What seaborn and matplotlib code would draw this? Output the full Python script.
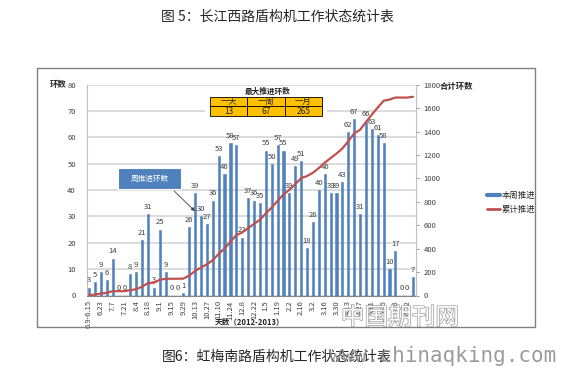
import numpy as np
import pandas as pd
import matplotlib
matplotlib.use('Agg')
import matplotlib.pyplot as plt
import seaborn as sns
from matplotlib.patches import Rectangle
from matplotlib.lines import Line2D
import matplotlib.patheffects as pe

# Style
sns.set_style('white')
plt.rcParams['font.family'] = ['Noto Sans CJK SC', 'DejaVu Sans']
plt.rcParams['axes.unicode_minus'] = False

# Data
week_rings = [3, 5, 9, 6, 14, 0, 0, 8, 9, 21, 31, 3, 25, 9, 0, 0, 1, 26, 39, 30,
              27, 36, 53, 46, 58, 57, 22, 37, 36, 35, 55, 50, 57, 55, 39, 49, 51, 18,
              28, 40, 46, 39, 39, 43, 62, 67, 31, 66, 63, 61, 58, 10, 17, 0, 0, 7]
cum_rings = [3, 8, 17, 23, 37, 37, 37, 45, 54, 75, 106, 109, 134, 143, 143, 143, 144,
             170, 209, 239, 266, 302, 355, 401, 459, 516, 538, 575, 611, 646, 701, 751,
             808, 863, 902, 951, 1002, 1020, 1048, 1088, 1134, 1173, 1212, 1255, 1317,
             1384, 1415, 1481, 1544, 1605, 1663, 1673, 1690, 1690, 1690, 1697]
tick_labels = ['6.9-6.15', '6.23', '7.7', '7.21', '8.4', '8.18', '9.1', '9.15', '9.29',
               '10.13', '10.27', '11.10', '11.24', '12.8', '12.22', '1.5', '1.19', '2.2',
               '2.16', '3.2', '3.16', '3.30', '4.13', '4.27', '5.11', '5.25', '6.8', '6.22']
max_labels = ['一天', '一周', '一月']
max_values = ['13', '67', '265']

df = pd.DataFrame({'pos': np.arange(len(week_rings)), 'rings': week_rings, 'cum': cum_rings})

W, H = 566, 375
fig = plt.figure(figsize=(W / 100, H / 100), dpi=100)
ax = fig.add_axes([87 / W, 1 - 295.5 / H, (416 - 87) / W, (295.5 - 84.7) / H])

# chart frame
fig.add_artist(Rectangle((37 / W, 1 - 327 / H), (535 - 37) / W, (327 - 68) / H,
                         transform=fig.transFigure, fill=False, edgecolor='#808080', lw=1))

# weekly bars
sns.barplot(data=df, x='pos', y='rings', color='#4F81BD', saturation=1, width=0.36,
            native_scale=True, errorbar=None, ax=ax, zorder=2,
            edgecolor='#4F81BD', linewidth=0.4)
for i, v in enumerate(week_rings):
    ax.text(i, v + 1.2, str(v), ha='center', va='bottom', fontsize=5.5, color='#404040', zorder=3)

ax.set_xlim(-0.35, 55.5)
ax.set_ylim(0, 80)
ax.set_yticks(range(0, 81, 10))
ax.set_xticks(range(0, 56, 2))
ax.set_xticklabels(tick_labels, rotation=90, fontsize=5.5, color='#404040')
ax.tick_params(axis='y', labelsize=5.5, labelcolor='#404040', length=0, pad=8)
ax.tick_params(axis='x', length=2, width=0.6, color='#868686', pad=1.5)
ax.set_xlabel('')
ax.set_ylabel('')
ax.yaxis.grid(True, color='#d9d9d9', lw=1.3)
ax.set_axisbelow(True)
for s in ['top', 'right']:
    ax.spines[s].set_visible(False)
ax.spines['left'].set_color('#bfbfbf')
ax.spines['bottom'].set_color('#868686')
ax.spines['left'].set_linewidth(0.8)
ax.spines['bottom'].set_linewidth(0.8)

# cumulative line
ax2 = ax.twinx()
sns.lineplot(data=df, x='pos', y='cum', color='#C0504D', lw=1.6, ax=ax2)
ax2.set_ylim(0, 1800)
ax2.set_yticks(range(0, 1801, 200))
ax2.tick_params(axis='y', labelsize=5.5, labelcolor='#404040', length=2.5, width=0.6,
                color='#868686', pad=3)
ax2.set_ylabel('')
for s in ['top', 'left', 'bottom']:
    ax2.spines[s].set_visible(False)
ax2.spines['right'].set_color('#bfbfbf')
ax2.spines['right'].set_linewidth(0.8)

# callout box
ax.add_patch(Rectangle((4.9, 40.4), 10.7, 8.0, facecolor='#4F81BD', edgecolor='white',
                       lw=0.8, zorder=4))
ax.text(10.25, 44.4, '周推进环数', ha='center', va='center', color='white', fontsize=5.5, zorder=5)
ax.annotate('', xy=(18.3, 31.3), xytext=(14.1, 40.4),
            arrowprops=dict(arrowstyle='-|>', color='#404040', lw=0.6, mutation_scale=5),
            zorder=5)

# max advance table
ax2.add_patch(Rectangle((0.359, 0.835), 0.37, 0.152, transform=ax2.transAxes,
                        facecolor='white', edgecolor='none', zorder=3))
ax2.text(0.55, 0.97, '最大推进环数', transform=ax2.transAxes, ha='center', va='center',
         fontsize=5.5, fontweight='bold', zorder=4)
tbl = ax2.table(cellText=[max_labels, max_values], cellLoc='center',
                bbox=[0.374, 0.8515, 0.34, 0.0902])
tbl.auto_set_font_size(False)
tbl.set_fontsize(6)
tbl.set_zorder(5)
for cell in tbl.get_celld().values():
    cell.set_facecolor('#FFC000')
    cell.set_edgecolor('black')
    cell.set_linewidth(0.6)

# axis titles
fig.text(58 / W, 1 - 85 / H, '环数', fontsize=6, fontweight='bold', ha='center', va='center')
fig.text(457 / W, 1 - 87 / H, '合计环数', fontsize=6, fontweight='bold', ha='center', va='center')
fig.text(250 / W, 1 - 322 / H, '天数（2012-2013）', fontsize=5.5, fontweight='bold',
         ha='center', va='center')

# legend
handles = [Line2D([], [], color='#4F81BD', lw=3), Line2D([], [], color='#C0504D', lw=2)]
fig.legend(handles, ['本周推进', '累计推进'], loc='upper left', bbox_to_anchor=(479 / W, 1 - 183 / H),
           frameon=False, fontsize=6, handlelength=1.6, handletextpad=0.2, labelspacing=0.6)

# titles
fig.text(277 / W, 1 - 17 / H, '图 5：长江西路盾构机工作状态统计表', fontsize=10,
         ha='center', va='center')
fig.text(277 / W, 1 - 357 / H, '图6：虹梅南路盾构机工作状态统计表', fontsize=10,
         ha='center', va='center')

# watermarks
fig.text(400 / W, 1 - 318 / H, '中国期刊网', fontsize=17, color='white', ha='center', va='center',
         path_effects=[pe.withStroke(linewidth=1.0, foreground='#9a9a9a')])
fig.text(443 / W, 1 - 356 / H, 'www.chinaqking.com', fontsize=15, color='#8a8a8a', alpha=0.85,
         family='DejaVu Sans Mono', ha='center', va='center')

fig.savefig('out.png', dpi=100)
plt.close()
